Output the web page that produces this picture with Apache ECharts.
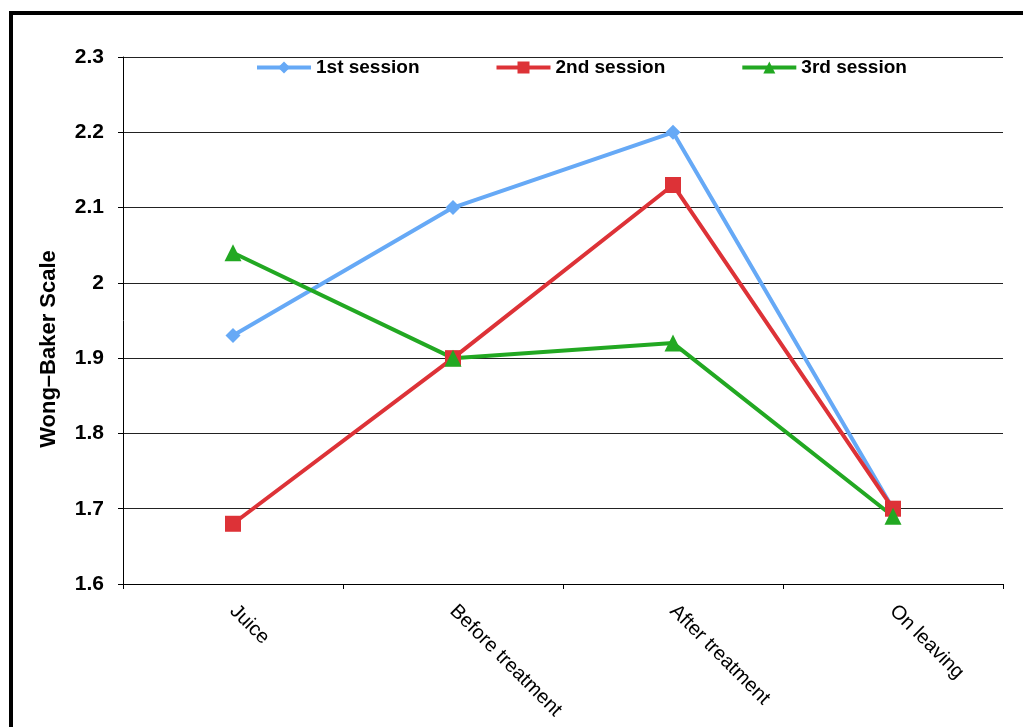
<!DOCTYPE html>
<html><head><meta charset="utf-8">
<script src="https://cdn.jsdelivr.net/npm/echarts@6/dist/echarts.min.js"></script>
<style>html,body{margin:0;padding:0;background:#fff}#c{width:1023px;height:727px}</style>
</head><body><div id="c"></div>
<script>
const categories = ['Juice', 'Before treatment', 'After treatment', 'On leaving'];
const session1 = [1.93, 2.10, 2.20, 1.70];
const session2 = [1.68, 1.90, 2.13, 1.70];
const session3 = [2.04, 1.90, 1.92, 1.69];
const seriesNames = ['1st session', '2nd session', '3rd session'];
const yAxisTitle = 'Wong–Baker Scale';

const FONT = '"Liberation Sans", Arial, sans-serif';
const chart = echarts.init(document.getElementById('c'), null, {renderer: 'canvas'});
const mk = (name, data, color, symbol, size) => ({
  name, type: 'line', data, symbol, symbolSize: size,
  lineStyle: {color, width: 4}, itemStyle: {color},
  emphasis: {disabled: true}, animation: false
});
chart.setOption({
  animation: false,
  textStyle: {fontFamily: FONT},
  grid: {left: 123, right: 20, top: 57, bottom: 143, containLabel: false},
  legend: {
    left: 250, top: 53, itemGap: 75, itemWidth: 54, itemHeight: 15,
    lineStyle: {width: 4},
    textStyle: {fontFamily: FONT, fontWeight: 'bold', fontSize: 19, color: '#000'},
    data: seriesNames
  },
  xAxis: {
    type: 'category', data: categories, boundaryGap: true,
    axisLine: {lineStyle: {color: '#000', width: 1}},
    axisTick: {show: true, length: 5, alignWithLabel: false, lineStyle: {color: '#000'}},
    axisLabel: {rotate: -45, fontSize: 20, color: '#000', fontFamily: FONT, margin: 24, interval: 0}
  },
  yAxis: {
    type: 'value', min: 1.6, max: 2.3, interval: 0.1,
    axisLine: {show: true, lineStyle: {color: '#000', width: 1}},
    axisTick: {show: true, length: 5, lineStyle: {color: '#000'}},
    axisLabel: {fontSize: 21, fontWeight: 'bold', color: '#000', fontFamily: FONT, margin: 19},
    splitLine: {lineStyle: {color: '#222', width: 1}}
  },
  graphic: [
    {type: 'rect', shape: {x: 11, y: 13, width: 1200, height: 900},
     style: {fill: 'none', stroke: '#000', lineWidth: 4}, silent: true},
    {type: 'text', x: 49, y: 349, rotation: Math.PI / 2,
     style: {text: yAxisTitle, font: 'bold 22px ' + FONT, fill: '#000', align: 'center', verticalAlign: 'middle'}}
  ],
  series: [
    mk(seriesNames[0], session1, '#66a9f6', 'diamond', 15),
    mk(seriesNames[1], session2, '#dd3237', 'rect', 16),
    mk(seriesNames[2], session3, '#22a822', 'triangle', 17)
  ]
});
</script></body></html>
